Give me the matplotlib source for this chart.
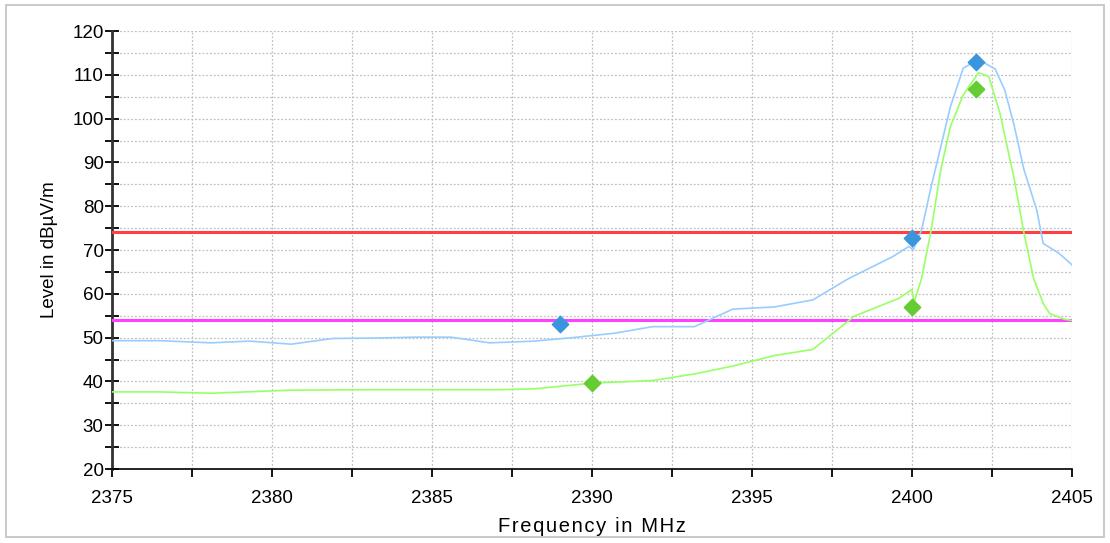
import matplotlib
matplotlib.use("Agg")
import matplotlib.pyplot as plt
from matplotlib.ticker import MultipleLocator
from matplotlib.patches import Rectangle

plt.rcParams['font.family'] = ['Liberation Sans', 'DejaVu Sans']

# peak trace (blue)
pk_f = [2375, 2376.5, 2378.1, 2379.3, 2380.6, 2381.9, 2383.2, 2384.5, 2385.6, 2386.8,
        2388.2, 2389.4, 2390.7, 2391.9, 2393.2, 2394.4, 2395.7, 2396.9, 2398.0, 2399.4,
        2399.9, 2400.04, 2400.3, 2400.6, 2400.9, 2401.2, 2401.6, 2402.08, 2402.6, 2402.9,
        2403.2, 2403.5, 2403.9, 2404.1, 2404.6, 2405]
pk_v = [49.3, 49.3, 48.8, 49.2, 48.5, 49.8, 49.9, 50.1, 50.1, 48.8,
        49.2, 50.0, 51.0, 52.5, 52.5, 56.5, 57.0, 58.6, 63.4, 68.5,
        70.8, 70.0, 74.6, 84.5, 93.6, 102.7, 111.5, 113.5, 111.3, 106.5,
        98.2, 88.3, 79.1, 71.5, 69.2, 66.6]

# average trace (green)
av_f = [2375, 2376.5, 2378.1, 2380.6, 2383, 2385, 2387.1, 2388.2, 2390, 2391.9,
        2393.2, 2394.4, 2395.7, 2396.9, 2398.2, 2399.6, 2400.0, 2400.06, 2400.3, 2400.6,
        2400.9, 2401.2, 2401.6, 2402.08, 2402.4, 2402.75, 2403.2, 2403.5, 2403.8, 2404.1,
        2404.3, 2404.75, 2405]
av_v = [37.6, 37.6, 37.3, 38.0, 38.1, 38.1, 38.1, 38.3, 39.6, 40.2,
        41.7, 43.5, 45.9, 47.3, 54.9, 59.0, 61.0, 57.9, 63.5, 74.6,
        88.3, 98.2, 105.4, 110.5, 109.6, 101.2, 86.0, 73.8, 63.5, 57.8,
        55.5, 54.2, 53.9]

# limits
limit_pk = 74
limit_av = 54

# markers
mk_pk_f = [2389, 2400, 2402]
mk_pk_v = [53.2, 72.7, 112.9]
mk_av_f = [2390, 2400, 2402]
mk_av_v = [39.6, 57.1, 106.8]

xlabel = 'Frequency in MHz'
ylabel = 'Level in dBµV/m'

fig = plt.figure(figsize=(11.1, 5.43), dpi=100)
ax = fig.add_axes([112/1110, 1-469/543, 960/1110, 438/543])

fig.patches.append(Rectangle((6/1110, 1-537/543), 1098/1110, 532/543, transform=fig.transFigure,
                             fill=False, edgecolor='#c0c0c0', linewidth=1.2))

ax.axhline(limit_pk, color='#ff4040', lw=2.2, zorder=3)
ax.axhline(limit_av, color='#ff40ff', lw=2.2, zorder=3)
ax.plot(pk_f, pk_v, color='#99ccff', lw=1.2, zorder=4)
ax.plot(av_f, av_v, color='#99ff66', lw=1.2, zorder=4)
ax.scatter(mk_pk_f, mk_pk_v, marker='D', s=70, color='#3a96dc', zorder=5)
ax.scatter(mk_av_f, mk_av_v, marker='D', s=70, color='#66cc33', zorder=5)

ax.set_xlim(2375, 2405)
ax.set_ylim(20, 120)
ax.xaxis.set_major_locator(MultipleLocator(5))
ax.xaxis.set_minor_locator(MultipleLocator(2.5))
ax.yaxis.set_major_locator(MultipleLocator(10))
ax.yaxis.set_minor_locator(MultipleLocator(5))
ax.grid(which='both', color='#c0c0c0', linestyle=(0, (1.5, 1.5)), lw=0.9)
ax.set_axisbelow(True)

for s in ['top', 'right']:
    ax.spines[s].set_visible(False)
ax.spines['left'].set_color('#333333')
ax.spines['left'].set_linewidth(2)
ax.spines['bottom'].set_color('black')
ax.spines['bottom'].set_linewidth(1.2)

ax.tick_params(axis='y', which='both', direction='inout', length=10, width=1.3, labelsize=13.5, pad=1)
ax.tick_params(axis='x', which='both', direction='out', length=6, width=1.3, labelsize=13.5, pad=9)

# the original axis title is letter-spaced
ax.set_xlabel('\u200a'.join(xlabel), fontsize=14.5, labelpad=7)
ax.set_ylabel(ylabel, fontsize=13.5, labelpad=10)

fig.savefig('out.png', dpi=100)
